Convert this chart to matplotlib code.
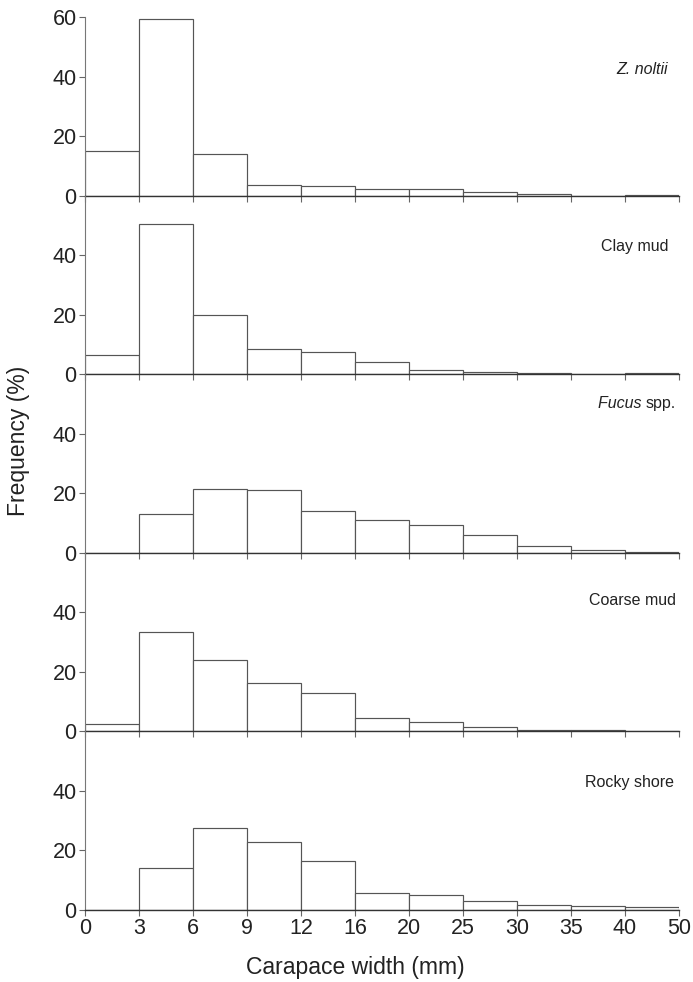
import numpy as np
import matplotlib
matplotlib.use("Agg")
import matplotlib.pyplot as plt

plt.rcParams['font.family'] = ['Liberation Sans Narrow', 'Liberation Sans', 'DejaVu Sans']

# size classes (mm), drawn as equal-width bins
edges = ['0', '3', '6', '9', '12', '16', '20', '25', '30', '35', '40', '50']

# frequency (%) per size class and habitat
z_noltii = [15.0, 59.3, 14.0, 3.5, 3.1, 2.3, 2.1, 1.2, 0.4, 0.0, 0.2]
clay_mud = [6.3, 50.6, 19.8, 8.5, 7.6, 4.0, 1.3, 0.8, 0.3, 0.2, 0.3]
fucus = [0.0, 13.1, 21.5, 21.2, 14.1, 11.0, 9.3, 6.1, 2.3, 0.9, 0.3]
coarse_mud = [2.6, 33.5, 23.9, 16.3, 12.8, 4.6, 3.0, 1.6, 0.6, 0.4, 0.1]
rocky_shore = [0.1, 14.2, 27.5, 22.8, 16.6, 5.6, 4.9, 3.0, 1.7, 1.2, 1.0]

panels = [z_noltii, clay_mud, fucus, coarse_mud, rocky_shore]
label_y = [42.3, 42.8, 50, 44, 43]
label_x = [10.8, 10.8, 10.95, 10.95, 10.9]

ink = '#222222'
fig, axes = plt.subplots(5, 1, figsize=(6.93, 9.82), dpi=100, sharex=True)
fig.subplots_adjust(left=0.1227, right=0.9798, bottom=0.0733, top=0.9827, hspace=0)

nb = len(edges) - 1
for i, (ax, vals) in enumerate(zip(axes, panels)):
    ax.bar(np.arange(nb), vals, width=1, align='edge', facecolor='white',
           edgecolor='#555555', linewidth=0.85)
    ax.set_xlim(0, nb)
    ax.set_ylim(0, 60)
    ax.set_yticks([0, 20, 40, 60] if i == 0 else [0, 20, 40])
    ax.set_xticks(np.arange(nb + 1))
    ax.tick_params(direction='out', length=4, width=0.8, colors='#666666',
                   labelcolor=ink, labelsize=15.5, pad=2)
    for s in ['top', 'right']:
        ax.spines[s].set_visible(False)
    ax.spines['left'].set_color('#777777')
    ax.spines['bottom'].set_color('#333333')
    ax.spines['bottom'].set_linewidth(1.0)
    ax.set_facecolor('none')

axes[-1].set_xticklabels(edges)

# habitat names
kw = dict(fontsize=11.5, color=ink, ha='right', va='center')
axes[0].text(label_x[0], label_y[0], 'Z. noltii', style='italic', **kw)
axes[1].text(label_x[1], label_y[1], 'Clay mud', **kw)
t = axes[2].text(label_x[2], label_y[2], 'spp.', **kw)
axes[2].annotate('Fucus ', xy=(0, 0.5), xycoords=t, style='italic', **kw)
axes[3].text(label_x[3], label_y[3], 'Coarse mud', **kw)
axes[4].text(label_x[4], label_y[4], 'Rocky shore', **kw)

fig.text(0.026, 0.551, 'Frequency (%)', rotation=90, ha='center', va='center',
         fontsize=16.5, color=ink)
fig.text(0.512, 0.0143, 'Carapace width (mm)', ha='center', va='center',
         fontsize=16.5, color=ink)

fig.savefig('out.png', dpi=100)
